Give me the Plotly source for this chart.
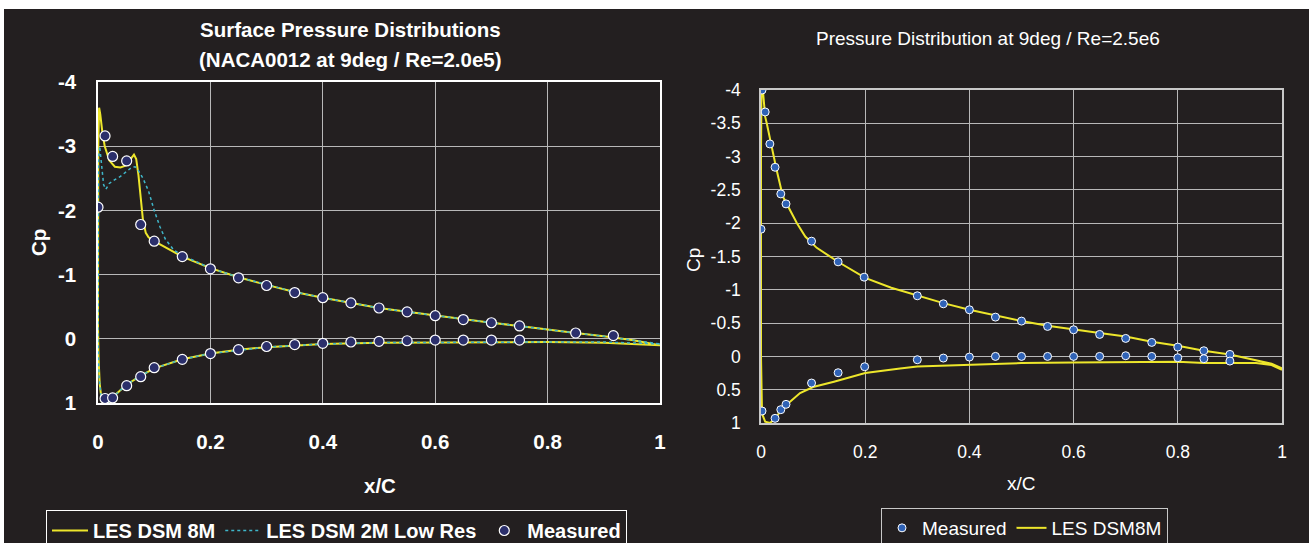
import plotly.graph_objects as go

W, H = 1309, 543
BG = "#231F20"
YEL = "#EDE62B"
CYAN = "#3FB6C9"
FONT = "Liberation Sans, Arial, sans-serif"

# ---------------- Left chart data (NACA0012, 9deg, Re=2.0e5) ----------------
les8m_l_x = [1.0, 0.9, 0.8, 0.7, 0.6, 0.5, 0.4, 0.35, 0.3, 0.25, 0.2, 0.15, 0.1, 0.075,
             0.05, 0.03, 0.02, 0.015, 0.01, 0.006, 0.003, 0.001, 0.0,
             0.0, 0.0005, 0.002, 0.004, 0.008, 0.012, 0.02, 0.03, 0.04, 0.05, 0.058,
             0.064, 0.068, 0.072, 0.076, 0.08, 0.085, 0.09, 0.1, 0.12, 0.15, 0.2, 0.25,
             0.3, 0.35, 0.4, 0.45, 0.5, 0.55, 0.6, 0.65, 0.7, 0.75, 0.8, 0.85, 0.9, 0.95, 1.0]
les8m_l_cp = [0.1, 0.06, 0.05, 0.05, 0.05, 0.06, 0.08, 0.1, 0.13, 0.17, 0.23, 0.32, 0.46, 0.58,
              0.72, 0.88, 0.98, 1.03, 1.0, 0.92, 0.7, 0.3, -0.2,
              -2.0, -3.0, -3.6, -3.5, -3.2, -3.0, -2.78, -2.68, -2.67, -2.7, -2.8,
              -2.87, -2.8, -2.55, -2.2, -1.85, -1.65, -1.58, -1.52, -1.42, -1.28, -1.1, -0.96,
              -0.84, -0.73, -0.64, -0.56, -0.48, -0.42, -0.36, -0.3, -0.25, -0.2, -0.14, -0.09, -0.04, 0.02, 0.1]

les2m_l_x = [1.0, 0.9, 0.8, 0.7, 0.6, 0.5, 0.4, 0.3, 0.2, 0.15, 0.1, 0.075, 0.05, 0.03,
             0.02, 0.012, 0.006, 0.002, 0.0,
             0.0, 0.001, 0.003, 0.006, 0.01, 0.014, 0.02, 0.03, 0.04, 0.05, 0.06, 0.066,
             0.072, 0.08, 0.09, 0.1, 0.11, 0.12, 0.135, 0.15, 0.2, 0.25, 0.3, 0.35, 0.4,
             0.45, 0.5, 0.55, 0.6, 0.65, 0.7, 0.75, 0.8, 0.85, 0.9, 0.95, 1.0]
les2m_l_cp = [0.08, 0.05, 0.05, 0.05, 0.05, 0.06, 0.08, 0.13, 0.23, 0.32, 0.46, 0.58, 0.72, 0.88,
              0.98, 1.05, 0.95, 0.6, 0.0,
              -2.0, -2.8, -3.0, -2.7, -2.4, -2.33, -2.42, -2.48, -2.53, -2.6, -2.67, -2.68,
              -2.62, -2.5, -2.3, -2.0, -1.75, -1.55, -1.38, -1.3, -1.1, -0.96, -0.84, -0.73, -0.64,
              -0.56, -0.48, -0.42, -0.36, -0.3, -0.25, -0.2, -0.14, -0.09, -0.04, 0.02, 0.08]

meas_l_x = [0.0, 0.0125, 0.026, 0.051, 0.076, 0.1, 0.15, 0.2, 0.25, 0.3, 0.35, 0.4, 0.45,
            0.5, 0.55, 0.6, 0.65, 0.7, 0.75, 0.85, 0.917,
            0.0125, 0.026, 0.051, 0.076, 0.1, 0.15, 0.2, 0.25, 0.3, 0.35, 0.4, 0.45, 0.5,
            0.55, 0.6, 0.65, 0.7, 0.75]
meas_l_cp = [-2.05, -3.16, -2.84, -2.77, -1.78, -1.52, -1.28, -1.09, -0.95, -0.83, -0.72, -0.64, -0.56,
             -0.48, -0.42, -0.36, -0.3, -0.25, -0.2, -0.09, -0.05,
             0.93, 0.92, 0.73, 0.59, 0.45, 0.32, 0.23, 0.17, 0.12, 0.09, 0.07, 0.05, 0.04,
             0.03, 0.02, 0.02, 0.02, 0.02]

# ---------------- Right chart data (9deg, Re=2.5e6) ----------------
les8m_r_x = [1.0, 0.98, 0.95, 0.9, 0.85, 0.8, 0.7, 0.6, 0.5, 0.4, 0.3, 0.267, 0.2, 0.14, 0.1,
             0.075, 0.053, 0.037, 0.025, 0.017, 0.008, 0.002, 0.0,
             0.0, 0.001, 0.003, 0.006, 0.008, 0.011, 0.02, 0.03, 0.042, 0.055, 0.069, 0.085,
             0.107, 0.15, 0.2, 0.25, 0.3, 0.35, 0.4, 0.45, 0.5, 0.55, 0.6, 0.65, 0.7, 0.75,
             0.8, 0.85, 0.9, 0.95, 0.98, 1.0]
les8m_r_cp = [0.2, 0.13, 0.1, 0.1, 0.1, 0.08, 0.08, 0.09, 0.1, 0.12, 0.15, 0.18, 0.25, 0.38, 0.46,
              0.55, 0.7, 0.83, 0.95, 1.0, 0.98, 0.86, 0.0,
              -3.0, -4.1, -4.05, -3.75, -3.6, -3.5, -3.15, -2.8, -2.4, -2.2, -2.0, -1.8,
              -1.63, -1.41, -1.18, -1.03, -0.91, -0.8, -0.7, -0.61, -0.53, -0.46, -0.4, -0.35, -0.3, -0.22,
              -0.16, -0.086, -0.03, 0.055, 0.11, 0.18]

meas_r_x = [0.0, 0.002, 0.008, 0.017, 0.027, 0.038, 0.048, 0.097, 0.148, 0.198, 0.3, 0.35, 0.4,
            0.45, 0.5, 0.55, 0.6, 0.65, 0.7, 0.75, 0.8, 0.85, 0.9,
            0.002, 0.027, 0.038, 0.048, 0.097, 0.148, 0.199, 0.3, 0.35, 0.4, 0.45, 0.5, 0.55,
            0.6, 0.65, 0.7, 0.75, 0.8, 0.85, 0.9]
meas_r_cp = [-1.91, -4.0, -3.67, -3.19, -2.84, -2.44, -2.29, -1.73, -1.42, -1.19, -0.91, -0.79, -0.7,
             -0.59, -0.53, -0.45, -0.4, -0.33, -0.27, -0.21, -0.14, -0.085, -0.03,
             0.82, 0.93, 0.8, 0.72, 0.4, 0.245, 0.155, 0.05, 0.025, 0.01, 0.0, 0.0, 0.0,
             0.0, 0.0, -0.01, 0.0, 0.02, 0.035, 0.07]

x_ticks = [0, 0.2, 0.4, 0.6, 0.8, 1]
x_ticktext = ["0", "0.2", "0.4", "0.6", "0.8", "1"]
yl_ticks = [-4, -3, -2, -1, 0, 1]
yl_ticktext = ["-4", "-3", "-2", "-1", "0", "1"]
yr_ticks = [-4, -3.5, -3, -2.5, -2, -1.5, -1, -0.5, 0, 0.5, 1]
yr_ticktext = ["-4", "-3.5", "-3", "-2.5", "-2", "-1.5", "-1", "-0.5", "0", "0.5", "1"]

fig = go.Figure()

# left
fig.add_trace(go.Scatter(x=les8m_l_x, y=les8m_l_cp, mode="lines", name="LES DSM 8M",
                         line=dict(color=YEL, width=2), xaxis="x", yaxis="y", legend="legend"))
fig.add_trace(go.Scatter(x=les2m_l_x, y=les2m_l_cp, mode="lines", name="LES DSM 2M Low Res",
                         line=dict(color=CYAN, width=1.5, dash="dot"), xaxis="x", yaxis="y", legend="legend"))
fig.add_trace(go.Scatter(x=meas_l_x, y=meas_l_cp, mode="markers", name="Measured",
                         marker=dict(size=10, color="#2B2F6B", line=dict(color="white", width=1.2)),
                         xaxis="x", yaxis="y", legend="legend"))
# right
fig.add_trace(go.Scatter(x=les8m_r_x, y=les8m_r_cp, mode="lines", name="LES DSM8M",
                         line=dict(color=YEL, width=2), xaxis="x2", yaxis="y2", legend="legend2",
                         legendrank=2))
fig.add_trace(go.Scatter(x=meas_r_x, y=meas_r_cp, mode="markers", name="Measured",
                         marker=dict(size=8, color="#2F62B6", line=dict(color="white", width=1)),
                         xaxis="x2", yaxis="y2", legend="legend2", legendrank=1))

BS = 20.5   # bold text size (left chart)
RS = 19     # regular text size (right chart)
bold_tick = dict(family=FONT, size=BS, color="white", weight="bold")
reg_tick = dict(family=FONT, size=17.5, color="white")
grid = "#B8B8B8"

fig.update_layout(
    width=W, height=H,
    margin=dict(l=0, r=0, t=0, b=0, autoexpand=False),
    paper_bgcolor="white",
    plot_bgcolor="rgba(0,0,0,0)",
    font=dict(family=FONT, color="white"),
    xaxis=dict(domain=[98 / W, 660 / W], range=[0, 1], tickvals=x_ticks, ticktext=x_ticktext,
               showgrid=True, gridcolor=grid, gridwidth=1, zeroline=False, showline=True, mirror=True,
               linecolor="white", linewidth=1.5, tickfont=bold_tick, ticklabelstandoff=20, anchor="y"),
    yaxis=dict(domain=[1 - 403 / H, 1 - 82 / H], range=[1, -4], tickvals=yl_ticks, ticktext=yl_ticktext,
               showgrid=True, gridcolor=grid, gridwidth=1, zeroline=False, showline=True, mirror=True,
               linecolor="white", linewidth=1.5, tickfont=bold_tick, ticklabelstandoff=16, anchor="x"),
    xaxis2=dict(domain=[761 / W, 1282 / W], range=[0, 1], tickvals=x_ticks, ticktext=x_ticktext,
                showgrid=True, gridcolor=grid, gridwidth=1, zeroline=False, showline=True, mirror=True,
                linecolor="#C8C8C8", linewidth=1.5, tickfont=reg_tick, ticklabelstandoff=12, anchor="y2"),
    yaxis2=dict(domain=[1 - 423 / H, 1 - 90 / H], range=[1, -4], tickvals=yr_ticks, ticktext=yr_ticktext,
                showgrid=True, gridcolor=grid, gridwidth=1, zeroline=False, showline=True, mirror=True,
                linecolor="#C8C8C8", linewidth=1.5, tickfont=reg_tick, ticklabelstandoff=15, anchor="x2"),
    legend=dict(x=46 / W, y=1 - 510 / H, xanchor="left", yanchor="top", orientation="h",
                bgcolor=BG, bordercolor="white", borderwidth=1, itemwidth=36,
                font=dict(family=FONT, size=20, color="white", weight="bold")),
    legend2=dict(x=881 / W, y=1 - 508 / H, xanchor="left", yanchor="top", orientation="h",
                 bgcolor=BG, bordercolor="#C8C8C8", borderwidth=1,
                 font=dict(family=FONT, size=RS, color="white")),
    shapes=[dict(type="rect", xref="paper", yref="paper", x0=4 / W, x1=1, y0=0, y1=1 - 9 / H,
                 fillcolor=BG, line=dict(width=0), layer="below")],
    showlegend=True,
)

ann = [
    dict(text="Surface Pressure Distributions", x=350 / W, y=1 - 30 / H,
         font=dict(family=FONT, size=BS, color="white", weight="bold")),
    dict(text="(NACA0012 at 9deg / Re=2.0e5)", x=350 / W, y=1 - 60 / H,
         font=dict(family=FONT, size=BS, color="white", weight="bold")),
    dict(text="Pressure Distribution at 9deg / Re=2.5e6", x=988 / W, y=1 - 38 / H,
         font=dict(family=FONT, size=RS, color="white")),
    dict(text="Cp", x=38 / W, y=1 - 243 / H, textangle=-90,
         font=dict(family=FONT, size=BS, color="white", weight="bold")),
    dict(text="x/C", x=380 / W, y=1 - 485 / H,
         font=dict(family=FONT, size=BS, color="white", weight="bold")),
    dict(text="Cp", x=693 / W, y=1 - 260 / H, textangle=-90,
         font=dict(family=FONT, size=RS, color="white")),
    dict(text="x/C", x=1021 / W, y=1 - 483 / H,
         font=dict(family=FONT, size=RS, color="white")),
]
for a in ann:
    fig.add_annotation(xref="paper", yref="paper", xanchor="center", yanchor="middle",
                       showarrow=False, **a)

fig.write_html("out.html")
